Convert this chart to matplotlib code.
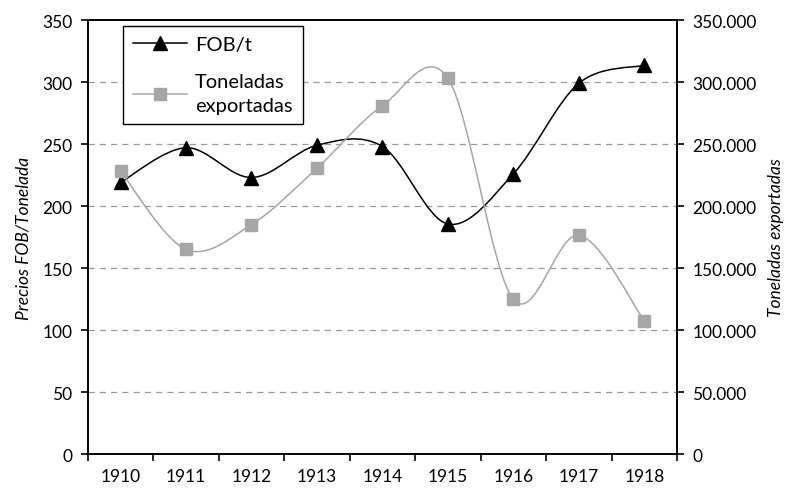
import numpy as np
import matplotlib
matplotlib.use('Agg')
import matplotlib.pyplot as plt
from matplotlib.path import Path
from matplotlib.patches import PathPatch
from matplotlib.lines import Line2D
from matplotlib.ticker import FuncFormatter, FixedLocator

plt.rcParams['font.family'] = ['Lato', 'DejaVu Sans']

years = ['1910', '1911', '1912', '1913', '1914', '1915', '1916', '1917', '1918']
fob = [219, 247, 223, 249, 248, 185.5, 226, 299, 313.5]
toneladas = [228000, 165000, 185000, 230500, 281000, 303000, 124700, 176500, 107300]

def smooth_path(xs, ys):
    # excel-like smoothed line (catmull-rom as bezier)
    pts = np.column_stack([xs, ys]).astype(float)
    ext = np.vstack([pts[0], pts, pts[-1]])
    verts = [tuple(pts[0])]
    codes = [Path.MOVETO]
    for i in range(len(pts) - 1):
        p0, p1, p2, p3 = ext[i], ext[i + 1], ext[i + 2], ext[i + 3]
        c1 = p1 + (p2 - p0) / 6.0
        c2 = p2 - (p3 - p1) / 6.0
        verts += [tuple(c1), tuple(c2), tuple(p2)]
        codes += [Path.CURVE4] * 3
    return Path(verts, codes)

x = np.arange(len(years))
grey = '#a6a6a6'

fig = plt.figure(figsize=(7.91, 4.89), dpi=100)
ax1 = fig.add_subplot(111)
fig.subplots_adjust(left=0.111, right=0.856, top=0.957, bottom=0.0695)
ax2 = ax1.twinx()

ax1.set_xlim(-0.5, len(years) - 0.5)
ax1.set_ylim(0, 350)
ax2.set_ylim(0, 350000)

for v in range(50, 350, 50):
    ax1.axhline(v, color='#9a9a9a', lw=0.9, ls=(0, (5, 4)), zorder=0)

ax1.add_patch(PathPatch(smooth_path(x, fob), fill=False, ec='black', lw=1.1, zorder=3))
ax1.plot(x, fob, ls='none', marker='^', ms=10, color='black', zorder=4)

ax2.add_patch(PathPatch(smooth_path(x, toneladas), fill=False, ec=grey, lw=1.1, zorder=3))
ax2.plot(x, toneladas, ls='none', marker='s', ms=8, color=grey, zorder=4)

ax1.set_yticks(range(0, 351, 50))
ax2.set_yticks(range(0, 350001, 50000))
ax2.yaxis.set_major_formatter(FuncFormatter(lambda v, p: '{:,.0f}'.format(v).replace(',', '.')))

ax1.set_xticks(x)
ax1.set_xticklabels(years)
ax1.xaxis.set_minor_locator(FixedLocator(np.arange(-0.5, len(years), 1)))
ax1.tick_params(axis='x', which='major', length=0, pad=10, labelsize=12.5)
ax1.tick_params(axis='x', which='minor', length=5, width=1.2, direction='out')
ax1.tick_params(axis='y', length=5, width=1.2, direction='out', labelsize=12.5, pad=6)
ax2.tick_params(axis='y', length=5, width=1.2, direction='out', labelsize=12.5, pad=6)

for ax in (ax1, ax2):
    for s in ax.spines.values():
        s.set_linewidth(1.2)

ax1.set_ylabel('Precios FOB/Tonelada', fontstyle='italic', fontsize=12.5, labelpad=8)
ax2.set_ylabel('Toneladas exportadas', fontstyle='italic', fontsize=12.5, labelpad=8)

handles = [Line2D([], [], color='black', lw=1.1, marker='^', ms=10),
           Line2D([], [], color=grey, lw=1.1, marker='s', ms=8)]
leg = ax2.legend(handles, ['FOB/t', 'Toneladas\nexportadas'], loc='upper left',
                 bbox_to_anchor=(0.059, 0.986), fancybox=False, framealpha=1,
                 edgecolor='black', fontsize=14.5, handlelength=2.7, handletextpad=0.4,
                 labelspacing=1.0, borderpad=0.5, borderaxespad=0)
leg.get_frame().set_linewidth(1.0)
leg.get_texts()[1].set_linespacing(1.45)

fig.savefig('out.png', dpi=100)
